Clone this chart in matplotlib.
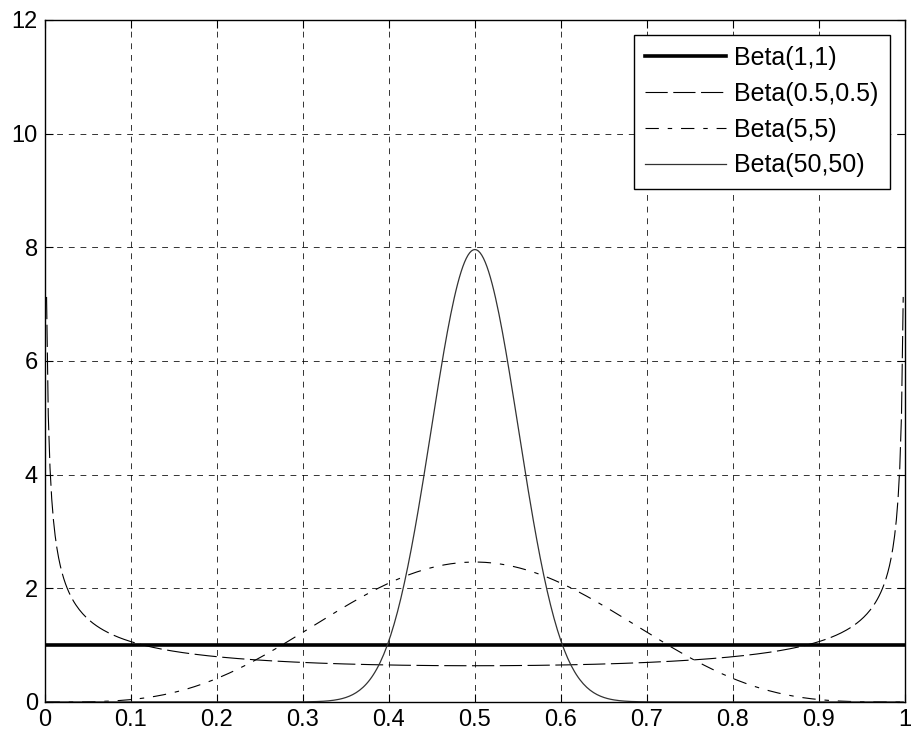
import math
import numpy as np
import matplotlib
matplotlib.use("Agg")
import matplotlib.pyplot as plt

# ====== DATA ======
alphas = [1, 0.5, 5, 50]
betas = [1, 0.5, 5, 50]
labels = ["Beta(1,1)", "Beta(0.5,0.5)", "Beta(5,5)", "Beta(50,50)"]
x_step = 0.002
x_ticks = [0, 0.1, 0.2, 0.3, 0.4, 0.5, 0.6, 0.7, 0.8, 0.9, 1]
y_ticks = [0, 2, 4, 6, 8, 10, 12]

# line styles, MATLAB-ish
styles = [
    dict(color="black", lw=2.6, ls="-"),
    dict(color="black", lw=0.8, ls=(0, (20, 5))),
    dict(color="black", lw=0.8, ls=(0, (12, 8, 4, 8))),
    dict(color="#333333", lw=0.9, ls="-"),
]


def beta_pdf(x, a, b):
    lognorm = math.lgamma(a + b) - math.lgamma(a) - math.lgamma(b)
    with np.errstate(divide="ignore"):
        return np.exp(lognorm + (a - 1) * np.log(x) + (b - 1) * np.log(1 - x))


x = np.arange(x_step, 1, x_step)

plt.rcParams["font.family"] = ["Liberation Sans", "DejaVu Sans"]
fig = plt.figure(figsize=(9.15, 7.35), dpi=100)
ax = fig.add_axes([0.049, 0.045, 0.940, 0.928])

for a, b, lab, st in zip(alphas, betas, labels, styles):
    if a == 1 and b == 1:
        xx = np.array([0.0, 1.0])
        yy = np.array([1.0, 1.0])
    else:
        xx, yy = x, beta_pdf(x, a, b)
    ax.plot(xx, yy, label=lab, **st)

ax.set_xlim(0, 1)
ax.set_ylim(0, 12)
ax.set_xticks(x_ticks)
ax.set_xticklabels([f"{t:g}" for t in x_ticks])
ax.set_yticks(y_ticks)
ax.tick_params(direction="in", length=6, labelsize=17, top=True, right=True, pad=5)
ax.grid(True, color="black", ls=(0, (6, 6)), lw=0.7, alpha=0.8)
for sp in ax.spines.values():
    sp.set_linewidth(1.0)

leg = ax.legend(loc="upper right", fontsize=18, handlelength=3.25,
                handletextpad=0.32, borderaxespad=0.6, fancybox=False,
                framealpha=1, edgecolor="black", labelspacing=0.47,
                borderpad=0.45)
leg.get_frame().set_linewidth(1.0)

fig.savefig("out.png", dpi=100)
